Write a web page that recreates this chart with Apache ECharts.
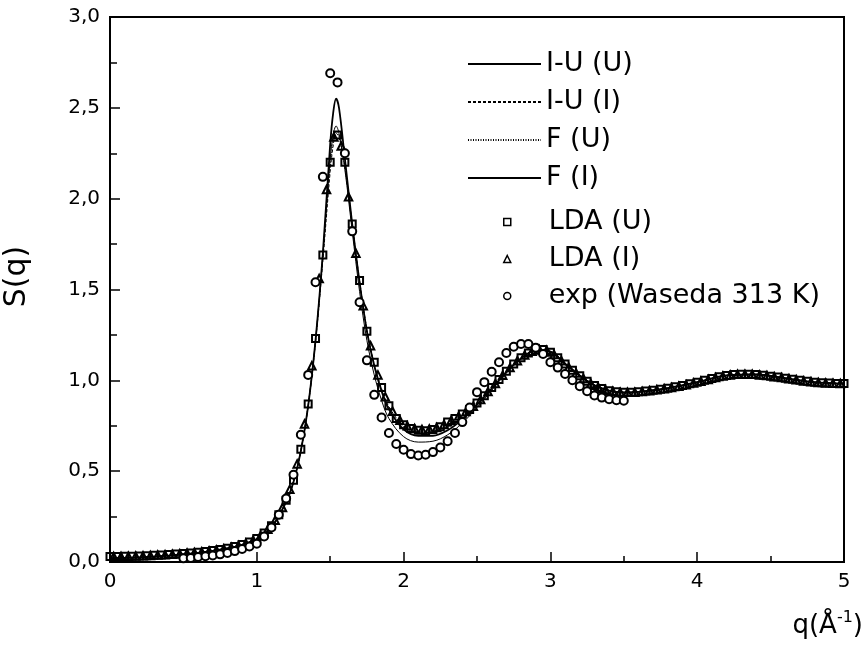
<!DOCTYPE html>
<html>
<head>
<meta charset="utf-8">
<script src="https://cdn.jsdelivr.net/npm/echarts@6/dist/echarts.min.js"></script>
<style>html,body{margin:0;padding:0;background:#fff;}#c{width:868px;height:648px;}</style>
</head>
<body>
<div id="c"></div>
<script>
// ---- data ----
const qLine = [0,0.2,0.4,0.6,0.8,0.9,1.0,1.1,1.2,1.25,1.3,1.35,1.4,1.45,1.5,1.52,1.54,1.56,1.6,1.65,1.7,1.75,1.8,1.85,1.9,2.0,2.1,2.2,2.3,2.4,2.5,2.6,2.7,2.8,2.9,3.0,3.1,3.2,3.3,3.4,3.5,3.6,3.8,4.0,4.2,4.4,4.6,4.8,5.0];
const sIUU = [0.020,0.025,0.035,0.050,0.075,0.095,0.125,0.190,0.330,0.440,0.610,0.860,1.220,1.700,2.300,2.470,2.550,2.500,2.220,1.860,1.540,1.270,1.080,0.940,0.840,0.730,0.695,0.695,0.725,0.785,0.865,0.955,1.045,1.120,1.165,1.155,1.090,1.025,0.972,0.943,0.933,0.937,0.957,0.990,1.027,1.032,1.012,0.990,0.982];
const sIUI = [0.022,0.027,0.037,0.052,0.077,0.097,0.128,0.195,0.335,0.445,0.615,0.860,1.210,1.660,2.150,2.290,2.360,2.340,2.180,1.860,1.550,1.280,1.090,0.955,0.855,0.750,0.720,0.720,0.745,0.795,0.870,0.955,1.045,1.120,1.165,1.160,1.095,1.030,0.975,0.945,0.934,0.937,0.957,0.990,1.027,1.033,1.012,0.990,0.982];
const sFU = [0.021,0.026,0.036,0.051,0.076,0.096,0.127,0.193,0.333,0.443,0.613,0.862,1.215,1.680,2.180,2.310,2.370,2.340,2.170,1.850,1.540,1.275,1.085,0.950,0.850,0.745,0.715,0.715,0.740,0.790,0.868,0.955,1.045,1.120,1.163,1.158,1.093,1.028,0.974,0.944,0.934,0.937,0.957,0.990,1.027,1.033,1.012,0.990,0.982];
const sFI = [0.020,0.025,0.035,0.050,0.075,0.096,0.127,0.192,0.332,0.442,0.612,0.862,1.220,1.690,2.220,2.350,2.400,2.360,2.160,1.820,1.490,1.220,1.030,0.890,0.790,0.690,0.660,0.665,0.700,0.765,0.850,0.945,1.040,1.120,1.165,1.160,1.095,1.030,0.975,0.944,0.934,0.937,0.957,0.990,1.027,1.033,1.012,0.990,0.982];

const qLdaU = [0,0.05,0.1,0.15,0.2,0.25,0.3,0.35,0.4,0.45,0.5,0.55,0.6,0.65,0.7,0.75,0.8,0.85,0.9,0.95,1.0,1.05,1.1,1.15,1.2,1.25,1.3,1.35,1.4,1.45,1.5,1.55,1.6,1.65,1.7,1.75,1.8,1.85,1.9,1.95,2.0,2.05,2.1,2.15,2.2,2.25,2.3,2.35,2.4,2.45,2.5,2.55,2.6,2.65,2.7,2.75,2.8,2.85,2.9,2.95,3.0,3.05,3.1,3.15,3.2,3.25,3.3,3.35,3.4,3.45,3.5,3.55,3.6,3.65,3.7,3.75,3.8,3.85,3.9,3.95,4.0,4.05,4.1,4.15,4.2,4.25,4.3,4.35,4.4,4.45,4.5,4.55,4.6,4.65,4.7,4.75,4.8,4.85,4.9,4.95,5.0];
const sLdaU = [0.030,0.030,0.031,0.032,0.033,0.035,0.037,0.039,0.041,0.044,0.047,0.050,0.054,0.058,0.063,0.069,0.076,0.085,0.096,0.110,0.130,0.160,0.200,0.260,0.340,0.450,0.620,0.870,1.230,1.690,2.200,2.350,2.200,1.860,1.550,1.270,1.100,0.960,0.860,0.790,0.755,0.735,0.725,0.722,0.730,0.745,0.770,0.790,0.815,0.840,0.875,0.915,0.960,1.005,1.050,1.090,1.125,1.150,1.165,1.170,1.155,1.125,1.090,1.055,1.025,0.995,0.972,0.955,0.943,0.937,0.934,0.934,0.937,0.941,0.946,0.951,0.957,0.964,0.972,0.981,0.990,1.000,1.010,1.020,1.027,1.032,1.034,1.034,1.032,1.028,1.023,1.018,1.012,1.006,1.000,0.995,0.990,0.987,0.985,0.983,0.982];

const qLdaI = [0.025,0.075,0.125,0.175,0.225,0.275,0.325,0.375,0.425,0.475,0.525,0.575,0.625,0.675,0.725,0.775,0.825,0.875,0.925,0.975,1.025,1.075,1.125,1.175,1.225,1.275,1.325,1.375,1.425,1.475,1.525,1.575,1.625,1.675,1.725,1.775,1.825,1.875,1.925,1.975,2.025,2.075,2.125,2.175,2.225,2.275,2.325,2.375,2.425,2.475,2.525,2.575,2.625,2.675,2.725,2.775,2.825,2.875,2.925,2.975,3.025,3.075,3.125,3.175,3.225,3.275,3.325,3.375,3.425,3.475,3.525,3.575,3.625,3.675,3.725,3.775,3.825,3.875,3.925,3.975,4.025,4.075,4.125,4.175,4.225,4.275,4.325,4.375,4.425,4.475,4.525,4.575,4.625,4.675,4.725,4.775,4.825,4.875,4.925,4.975];
const sLdaI = [0.031,0.031,0.032,0.033,0.034,0.036,0.038,0.040,0.043,0.046,0.049,0.052,0.056,0.061,0.066,0.073,0.081,0.091,0.103,0.120,0.145,0.180,0.230,0.300,0.400,0.540,0.760,1.080,1.560,2.050,2.340,2.290,2.010,1.700,1.410,1.190,1.030,0.910,0.830,0.780,0.750,0.735,0.730,0.732,0.740,0.757,0.780,0.803,0.828,0.857,0.895,0.938,0.983,1.028,1.070,1.108,1.140,1.160,1.170,1.165,1.142,1.108,1.072,1.040,1.010,0.983,0.963,0.949,0.940,0.935,0.934,0.935,0.939,0.943,0.948,0.954,0.960,0.968,0.976,0.985,0.995,1.005,1.015,1.024,1.030,1.033,1.034,1.033,1.030,1.026,1.020,1.015,1.009,1.003,0.997,0.992,0.988,0.986,0.984,0.983];

const qExp = [0.5,0.55,0.6,0.65,0.7,0.75,0.8,0.85,0.9,0.95,1.0,1.05,1.1,1.15,1.2,1.25,1.3,1.35,1.4,1.45,1.5,1.55,1.6,1.65,1.7,1.75,1.8,1.85,1.9,1.95,2.0,2.05,2.1,2.15,2.2,2.25,2.3,2.35,2.4,2.45,2.5,2.55,2.6,2.65,2.7,2.75,2.8,2.85,2.9,2.95,3.0,3.05,3.1,3.15,3.2,3.25,3.3,3.35,3.4,3.45,3.5];
const sExp = [0.020,0.022,0.028,0.032,0.036,0.042,0.050,0.060,0.072,0.085,0.100,0.140,0.190,0.260,0.350,0.480,0.700,1.030,1.540,2.120,2.690,2.640,2.250,1.820,1.430,1.110,0.920,0.795,0.710,0.650,0.618,0.594,0.586,0.590,0.605,0.630,0.665,0.710,0.770,0.850,0.935,0.990,1.047,1.100,1.150,1.185,1.200,1.200,1.180,1.145,1.100,1.070,1.035,1.000,0.967,0.940,0.917,0.905,0.896,0.890,0.888];

const names = ['I-U (U)','I-U (I)','F (U)','F (I)','LDA (U)','LDA (I)','exp (Waseda 313 K)'];
const xTicks = [0,1,2,3,4,5];
const yTicks = [0,0.5,1,1.5,2,2.5,3];

// ---- build ----
const zip = (a,b) => a.map((v,i) => [v,b[i]]);
const FONT = 'DejaVu Sans';
function lineSeries(name, q, s, type, width) {
  return { name, type:'line', data: zip(q,s), smooth:0.35, symbol:'none', showSymbol:false,
    lineStyle:{ color:'#000', width, type }, itemStyle:{color:'#000'}, z:2 };
}
function scatterSeries(name, q, s, symbol, size, fill) {
  return { name, type:'scatter', data: zip(q,s), symbol, symbolSize:size,
    itemStyle:{ color:fill, borderColor:'#000', borderWidth:2, opacity:1 }, z:3 };
}
const option = {
  animation:false,
  backgroundColor:'#fff',
  grid:{ left:110, right:24, top:17, bottom:86, show:true, borderColor:'#000', borderWidth:2, containLabel:false, outerBoundsMode:'none' },
  xAxis:{ type:'value', min:xTicks[0], max:xTicks[xTicks.length-1], interval:1,
    name:'q(Å{sup|-1})', nameLocation:'end', nameGap:19,
    nameTextStyle:{ fontFamily:FONT, fontSize:26, color:'#000', align:'right', verticalAlign:'top', padding:[48,0,0,0],
      rich:{ sup:{ fontFamily:FONT, fontSize:16, color:'#000', verticalAlign:'top', padding:[0,0,16,0] } } },
    axisLine:{ lineStyle:{ color:'#000', width:2 } },
    axisTick:{ inside:true, length:10, lineStyle:{ color:'#000', width:1.5 } },
    minorTick:{ show:true, splitNumber:2, length:6, lineStyle:{ color:'#000', width:1.5 } },
    splitLine:{ show:false },
    axisLabel:{ fontFamily:FONT, fontSize:20, color:'#000', margin:10, formatter: v => String(v) } },
  yAxis:{ type:'value', min:yTicks[0], max:yTicks[yTicks.length-1], interval:0.5,
    name:'S(q)', nameLocation:'middle', nameGap:78, nameRotate:90,
    nameTextStyle:{ fontFamily:FONT, fontSize:30, color:'#000', padding:[0,0,0,26] },
    axisLine:{ lineStyle:{ color:'#000', width:2 } },
    axisTick:{ inside:true, length:10, lineStyle:{ color:'#000', width:1.5 } },
    minorTick:{ show:true, splitNumber:2, length:7, lineStyle:{ color:'#000', width:1.5 } },
    splitLine:{ show:false },
    axisLabel:{ fontFamily:FONT, fontSize:20, color:'#000', margin:10, formatter: v => v.toFixed(1).replace('.', ',') } },
  legend:[
    { data:names.slice(0,4), orient:'vertical', left:467, top:49, padding:0, itemWidth:73, itemHeight:14, itemGap:8,
      itemStyle:{ color:'rgba(0,0,0,0)', borderWidth:0, opacity:0 },
      textStyle:{ fontFamily:FONT, fontSize:27, color:'#000', lineHeight:30 }, inactiveColor:'#000' },
    { data:names.slice(4), orient:'vertical', left:503, top:207, padding:0, itemWidth:7, itemHeight:7, itemGap:7,
      itemStyle:{ borderWidth:1.5 },
      textStyle:{ fontFamily:FONT, fontSize:27, color:'#000', lineHeight:30, padding:[0,0,0,33] }, inactiveColor:'#000' }
  ],
  series:[
    lineSeries(names[0], qLine, sIUU, 'solid', 1.8),
    lineSeries(names[1], qLine, sIUI, [3,2], 1),
    lineSeries(names[2], qLine, sFU, [1,1.5], 1),
    lineSeries(names[3], qLine, sFI, 'solid', 1),
    scatterSeries(names[4], qLdaU, sLdaU, 'rect', 7, 'rgba(255,255,255,0)'),
    scatterSeries(names[5], qLdaI, sLdaI, 'triangle', 7.5, 'rgba(255,255,255,0)'),
    scatterSeries(names[6], qExp, sExp, 'circle', 8, '#fff')
  ]
};
const chart = echarts.init(document.getElementById('c'), null, { renderer:'canvas' });
chart.setOption(option);
</script>
</body>
</html>
